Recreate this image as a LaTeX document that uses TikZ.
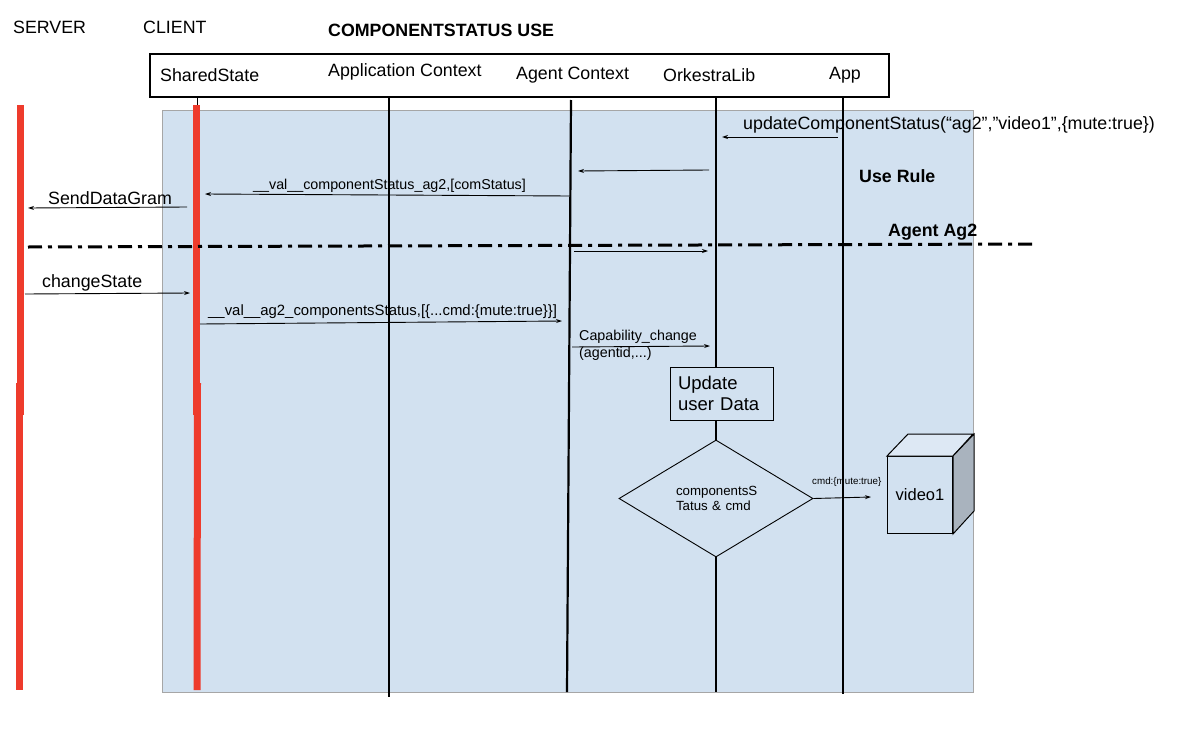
\documentclass[tikz,border=0pt]{standalone}
\usepackage{fontspec}
\setmainfont{Liberation Sans}
\usetikzlibrary{arrows.meta,shapes.geometric}
\definecolor{bgblue}{HTML}{D2E1F0}
\definecolor{redline}{HTML}{EE3B2C}
\definecolor{cubeside}{HTML}{A9B3BE}
\definecolor{cubetop}{HTML}{DDE8F4}
\begin{document}
\begin{tikzpicture}[x=1pt,y=-1pt,
  lbl/.style={inner sep=0pt, anchor=west, font=\fontsize{17.8}{20}\selectfont},
  small/.style={inner sep=0pt, anchor=west, font=\fontsize{14.3}{16}\selectfont},
  tiny/.style={inner sep=0pt, anchor=west, font=\fontsize{9.8}{11}\selectfont},
  boldlbl/.style={inner sep=0pt, anchor=west, font=\bfseries\fontsize{17.8}{20}\selectfont},
  msg/.style={line width=0.9pt, -{Stealth[length=6pt,width=4pt]}},
  life/.style={line width=2.2pt},
  redlife/.style={line width=7pt, draw=redline},
]
\useasboundingbox (0,0) rectangle (1202,744);
\fill[white] (0,0) rectangle (1202,744);

% background panel
\node[fill=bgblue, draw=gray!70, line width=0.8pt, minimum width=811pt, minimum height=582pt, anchor=north west, inner sep=0pt] (bg) at (162,110) {};

% titles
\node[lbl] (server) at (13,27) {SERVER};
\node[lbl] (client) at (143,27) {CLIENT};
\node[boldlbl] (title) at (328,30) {COMPONENTSTATUS USE};

% header box
\node[draw, line width=2pt, minimum width=739pt, minimum height=43pt, anchor=north west, inner sep=0pt] (hdr) at (149,53) {};
\node[lbl] (hShared) at (160,75) {SharedState};
\node[lbl] (hApp) at (328,72) {Application Context};
\node[lbl] (hAgent) at (516,75) {Agent Context};
\node[lbl] (hOrk) at (663,75) {OrkestraLib};
\node[lbl] (hApp2) at (829,75) {App};

% coordinates of lifelines
\coordinate (shTop) at (197,96);
\coordinate (shRed) at (197,105);
\coordinate (acTop) at (389,96);
\coordinate (acBot) at (389,697);
\coordinate (agTop) at (571,100);
\coordinate (agBot) at (567,692);
\coordinate (okTop) at (716,96);
\coordinate (apTop) at (843,96);
\coordinate (apBot) at (843,694);

% red lifelines
\coordinate (sv1) at (20,105);
\coordinate (sv2) at (20,415);
\coordinate (sv3) at (19,383);
\coordinate (sv4) at (19,690);
\draw[redlife] (sv1) -- (sv2);
\draw[redlife] (sv3) -- (sv4);
\coordinate (cl1) at (196.5,105);
\coordinate (cl2) at (196.5,415);
\coordinate (cl3) at (197.5,383);
\coordinate (cl4) at (197,690);
\draw[redlife] (cl1) -- (cl2);
\draw[redlife] (cl3) -- (cl4);
\draw[line width=0.6pt] (shTop) -- (shRed);

% black lifelines
\draw[life] (acTop) -- (acBot);
\draw[life] (agTop) -- (agBot);
\draw[life] (apTop) -- (apBot);

% update box and diamond
\node[draw, line width=1pt, fill=bgblue, minimum width=103pt, minimum height=53pt, text width=87pt, align=left, inner sep=0pt, font=\fontsize{18.5}{21.5}\selectfont] (upd) at (721.5,393.5) {Update\\user Data};
\node[draw, diamond, line width=0.9pt, fill=bgblue, minimum width=194pt, minimum height=117pt, inner sep=0pt, text width=80pt, align=left, font=\fontsize{13.3}{15.5}\selectfont] (dia) at (716,498.5) {componentsS\\Tatus \& cmd};
\coordinate (okBot) at (716,692);
\draw[life] (okTop) -- (okTop |- upd.north);
\draw[life] (dia.north |- upd.south) -- (dia.north);
\draw[life] (dia.south) -- (okBot);

% cube video1
\node[draw, line width=1pt, fill=bgblue, minimum width=65pt, minimum height=77pt, anchor=north west, inner sep=0pt, font=\fontsize{16.5}{19}\selectfont] (vid) at (887,456) {video1};
\draw[line width=1pt, fill=cubetop] (vid.north west) -- ++(21,-22) -- ++(65,0) -- (vid.north east) -- cycle;
\draw[line width=1pt, fill=cubeside] (vid.north east) -- ++(21,-22) -- ++(0,77) -- (vid.south east) -- cycle;

% messages
\node[lbl] (mUpd) at (743,125) {updateComponentStatus(“ag2”,”video1”,\{mute:true\})};
\coordinate (m1a) at (838,137);
\coordinate (m1b) at (722,137);
\draw[msg] (m1a) -- (m1b);

\coordinate (m2a) at (709,170);
\coordinate (m2b) at (578,171);
\draw[msg] (m2a) -- (m2b);

\node[boldlbl] (useRule) at (859,176) {Use Rule};

\node[small] (mVal1) at (253,186) {\_\_val\_\_componentStatus\_ag2,[comStatus]};
\coordinate (m3a) at (570,196);
\coordinate (m3b) at (205,194);
\draw[msg] (m3a) -- (m3b);

\node[lbl] (mSend) at (48,198) {SendDataGram};
\coordinate (m4a) at (187,207);
\coordinate (m4b) at (28,208);
\draw[msg] (m4a) -- (m4b);

\node[boldlbl] (agentAg2) at (888,232) {Agent Ag2};
\coordinate (dl1) at (28,247);
\coordinate (dl2) at (1032,244);
\draw[line width=3pt, dash pattern=on 14pt off 6pt on 4pt off 6pt] (dl1) -- (dl2);

\coordinate (m5a) at (574,251);
\coordinate (m5b) at (708,251);
\draw[msg] (m5a) -- (m5b);

\node[lbl] (mChange) at (42,283) {changeState};
\coordinate (m6a) at (25,294);
\coordinate (m6b) at (190,293);
\draw[msg] (m6a) -- (m6b);

\node[small, font=\fontsize{14.9}{16}\selectfont] (mVal2) at (208,312) {\_\_val\_\_ag2\_componentsStatus,[\{...cmd:\{mute:true\}\}]};
\coordinate (m7a) at (200,324);
\coordinate (m7b) at (562,321);
\draw[msg] (m7a) -- (m7b);

\node[small, align=left, anchor=north west, font=\fontsize{14.3}{16.5}\selectfont] (mCap) at (579,330) {Capability\_change\\(agentid,...)};
\coordinate (m8a) at (572,347);
\coordinate (m8b) at (710,346);
\draw[msg] (m8a) -- (m8b);

\node[tiny] (mCmd) at (812,482) {cmd:\{mute:true\}};
\coordinate (m9b) at (871,497);
\draw[msg] (dia.east) -- (m9b);
\end{tikzpicture}
\end{document}
